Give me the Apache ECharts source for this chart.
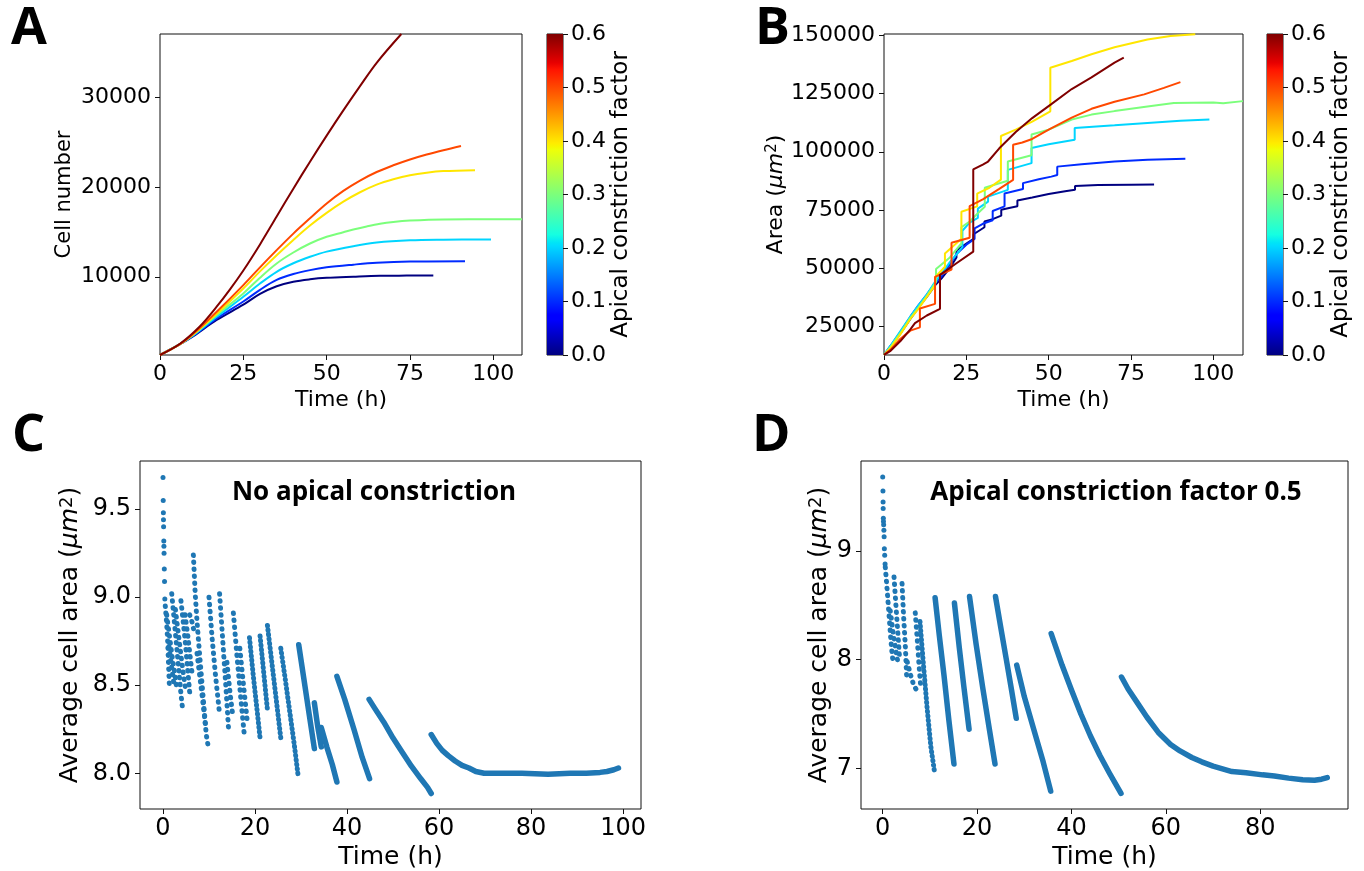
<!DOCTYPE html>
<html><head><meta charset="utf-8">
<script src="https://cdn.jsdelivr.net/npm/echarts@6/dist/echarts.min.js"></script>
<style>html,body{margin:0;padding:0;background:#fff}#c{width:1364px;height:871px}</style>
</head><body><div id="c"></div>
<script>
// ================= DATA =================
const factors = [0.0, 0.1, 0.2, 0.3, 0.4, 0.5, 0.6];
const colorbarTicks = [0, 0.1, 0.2, 0.3, 0.4, 0.5, 0.6];

// Panel A: cell number vs time, one curve per apical constriction factor
const cellNumberAC00 = [[0,1300],[6,2500],[10,3400],[17,5190],[25,6900],[30,8100],[35,8950],[40,9450],[45,9720],[50,9880],[58,10000],[66,10100],[74,10130],[82,10150]];
const cellNumberAC01 = [[0,1300],[6,2500],[10,3450],[17,5375],[25,7250],[30,8550],[35,9650],[40,10300],[45,10740],[50,11050],[58,11350],[65,11560],[75,11700],[91.5,11740]];
const cellNumberAC02 = [[0,1300],[6,2500],[10,3500],[17,5550],[25,7780],[30,9250],[35,10555],[40,11500],[45,12220],[50,12800],[58,13400],[65,13800],[75,14050],[85,14120],[99.3,14150]];
const cellNumberAC03 = [[0,1300],[6,2500],[10,3550],[17,5750],[25,8150],[30,9900],[35,11480],[40,12700],[45,13700],[50,14450],[55,14950],[58,15250],[62,15600],[66,15900],[70,16100],[75,16250],[85,16380],[100,16400],[108.6,16400]];
const cellNumberAC04 = [[0,1300],[6,2500],[10,3600],[17,5900],[25,8700],[30,10600],[35,12400],[40,14100],[45,15700],[50,17100],[55,18350],[60,19400],[65,20250],[70,20850],[75,21300],[80,21580],[85,21750],[94.5,21850]];
const cellNumberAC05 = [[0,1300],[6,2500],[10,3650],[17,6100],[25,9075],[30,11050],[35,12960],[40,14800],[45,16500],[50,18150],[55,19550],[60,20700],[65,21650],[70,22400],[75,23050],[80,23600],[85,24080],[90.3,24550]];
const cellNumberAC06 = [[0,1300],[6,2550],[12,4500],[17,6670],[21,8600],[25,10700],[30,13600],[35,16700],[40,19800],[45,22800],[50,25700],[55,28500],[60,31200],[65,33800],[72.4,37000]];
const cellNumberTimeTicks = [0, 25, 50, 75, 100];
const cellNumberTicks = [10000, 20000, 30000];

// Panel B: area vs time
const areaAC00 = [[0,12600],[2,15800],[5,21800],[8,28000],[10.5,33000],[13,37500],[15.5,42500],[17.5,45500],[20,50000],[22,54500],[22,57500],[25,60500],[27.2,62500],[27.2,64500],[30.5,67500],[30.5,70000],[33,71000],[35.6,72500],[35.6,75000],[38,75800],[40.5,76500],[40.5,79000],[45,80300],[50,81800],[55,83000],[58,83600],[58,85300],[65,85700],[75,85800],[82,85900]];
const areaAC01 = [[0,12600],[2,16500],[5,22500],[8,29000],[10.5,34000],[13,38500],[15.5,43500],[17.5,46500],[20,51500],[22,56000],[25,60000],[27.5,62500],[27.5,67000],[30,69000],[33,70500],[33,74500],[36.6,76500],[36.6,82000],[42.2,84000],[42.2,86500],[47,88200],[50.8,89300],[52.6,90000],[52.6,93600],[60,94600],[70,95800],[80,96600],[91.5,97000]];
const areaAC02 = [[0,12600],[2,16500],[5,22800],[8,29000],[10.5,34000],[13,38500],[15.5,44000],[17.5,47500],[20,52500],[23,57500],[23.8,59000],[23.8,66000],[26,69500],[28.5,71500],[28.5,75500],[31.6,78500],[31.6,80700],[37.6,83600],[37.6,92200],[44.8,95100],[44.8,101600],[50,103200],[57.9,105200],[57.9,110200],[70,111400],[80,112400],[90,113300],[98.8,113900]];
const areaAC03 = [[0,12600],[2,16000],[5,22000],[8,28500],[10.5,33000],[13,38000],[15.8,44000],[15.8,49500],[20,54500],[23.5,60500],[23.5,67500],[26,70000],[28.5,73500],[30.6,76300],[30.6,84500],[34,86000],[37.6,87500],[37.6,95800],[44.8,98500],[44.8,107400],[50,109500],[57,113900],[63,116000],[70,117500],[80,119500],[88,121000],[100,121200],[103,120900],[109,121800]];
const areaAC04 = [[0,12600],[2,15500],[5,21500],[8,28000],[10.5,32500],[13,37500],[15.5,42500],[15.5,46000],[18.5,50500],[18.5,56200],[23.5,62500],[23.5,74200],[28.3,76500],[28.3,82000],[32,84500],[35.5,88000],[35.5,106800],[40,109500],[45,113000],[50.5,117400],[50.5,136200],[57,139100],[63,142000],[70,145000],[80,148300],[87,149800],[94.5,150600]];
const areaAC05 = [[0,12600],[2,14800],[5,19500],[8,23000],[10.9,24400],[10.9,32500],[15.5,34500],[15.5,46100],[20.5,49300],[20.5,60800],[26,63000],[26,76600],[30,79500],[35,84000],[39.2,87900],[39.2,103000],[42,104000],[45,105500],[50,109500],[57,114700],[63,118500],[70,121500],[79,124700],[85,127500],[90,130000]];
const areaAC06 = [[0,12600],[2,14300],[5,18500],[8,23500],[9.4,26200],[13,29500],[17,32400],[17,47000],[22,52000],[27.1,57000],[27.1,92400],[30,94500],[31.6,95800],[35,101500],[40,108500],[45,114500],[50.6,120300],[57,127000],[63,132000],[70,138400],[72.8,140500]];
const areaTimeTicks = [0, 25, 50, 75, 100];
const areaTicks = [25000, 50000, 75000, 100000, 125000, 150000];

// Panel C: average cell area, no apical constriction (segments between jumps)
const noACFirstDots = [[0,9.68],[0.05,9.55],[0.08,9.48],[0.1,9.44],[0.13,9.4],[0.17,9.32],[0.2,9.29],[0.23,9.25],[0.28,9.16],[0.33,9.09],[0.4,8.99]];
const noACSegments = [
  [[0.5,8.95],[0.8,8.85],[1.0,8.76],[1.2,8.62],[1.4,8.49]],
  [[0.8,8.9],[1.4,8.78],[2.0,8.66],[2.6,8.56],[3.0,8.48]],
  [[1.9,9.02],[2.4,8.88],[2.9,8.74],[3.4,8.6],[3.9,8.45],[4.2,8.38]],
  [[1.3,8.72],[1.8,8.62],[2.3,8.52]],
  [[2.7,8.93],[3.3,8.8],[3.9,8.67],[4.5,8.55],[5.0,8.46]],
  [[3.9,8.98],[4.4,8.86],[4.9,8.73],[5.4,8.58],[5.8,8.46]],
  [[4.8,8.9],[5.4,8.78],[6.0,8.64],[6.4,8.55]],
  [[5.8,8.9],[6.3,8.86],[6.8,8.8]],
  [[6.6,9.24],[7.0,9.02],[7.4,8.86],[8.0,8.66],[8.7,8.44],[9.4,8.22],[9.9,8.14]],
  [[7.4,8.68],[8.0,8.55],[8.6,8.42],[9.2,8.28]],
  [[10.0,9.0],[10.7,8.76],[11.4,8.56],[12.2,8.36]],
  [[12.3,9.02],[13.0,8.75],[13.7,8.48],[14.3,8.23]],
  [[13.9,8.63],[14.6,8.45],[15.2,8.32]],
  [[15.3,8.91],[16.1,8.66],[16.9,8.43],[17.7,8.21]],
  [[16.7,8.71],[17.5,8.5],[18.3,8.3]],
  [[18.8,8.77],[19.6,8.56],[20.4,8.37],[21.1,8.2]],
  [[21.1,8.78],[21.9,8.57],[22.7,8.36]],
  [[22.7,8.84],[23.7,8.62],[24.7,8.4],[25.6,8.2]],
  [[25.6,8.71],[26.6,8.53],[27.6,8.34],[28.6,8.15],[29.4,7.98]],
  [[29.5,8.73],[30.6,8.54],[31.8,8.33],[32.9,8.14]],
  [[32.9,8.4],[33.6,8.27],[34.4,8.15]],
  [[34.4,8.26],[35.6,8.15],[36.8,8.05],[37.8,7.95]],
  [[37.8,8.55],[39.5,8.42],[41.5,8.25],[43.3,8.09],[44.9,7.97]],
  [[44.8,8.42],[46,8.37],[48,8.29],[50,8.2],[52,8.12],[54,8.04],[56,7.97],[57.5,7.92],[58.3,7.885]],
  [[58.3,8.22],[59.5,8.17],[60.7,8.13],[62,8.1],[63.5,8.07],[65,8.045],[66.5,8.03],[68,8.01],[69.8,8.0],[74,8.0],[78,8.0],[83.7,7.995],[88.5,8.0],[92,8.0],[95,8.005],[96.5,8.01],[98,8.02],[99,8.03]]
];
const noACTimeTicks = [0, 20, 40, 60, 80, 100];
const noACTicks = [8.0, 8.5, 9.0, 9.5];

// Panel D: average cell area, apical constriction factor 0.5
const ac05FirstDots = [[0,9.68],[0.05,9.55],[0.08,9.45],[0.1,9.39],[0.13,9.3],[0.16,9.27],[0.2,9.24],[0.25,9.19],[0.3,9.13],[0.35,9.02],[0.42,8.96],[0.5,8.88]];
const ac05Segments = [
  [[0.55,8.85],[0.8,8.72],[1.1,8.55],[1.4,8.38],[1.7,8.2],[2.0,8.05],[2.2,7.98]],
  [[2.4,8.76],[2.8,8.5],[3.2,8.25],[3.6,8.0]],
  [[1.6,8.45],[2.2,8.25],[2.8,8.08],[3.2,7.98]],
  [[4.1,8.7],[4.4,8.42],[4.8,8.12],[5.1,7.82]],
  [[5.2,7.98],[5.9,7.86],[6.6,7.76],[7.2,7.72]],
  [[6.9,8.43],[7.3,8.2],[7.7,7.95],[8.1,7.73]],
  [[7.9,8.35],[8.6,7.97],[9.4,7.56],[10.2,7.2],[11.0,6.96]],
  [[11.1,8.57],[12,8.22],[13,7.85],[14,7.45],[15.1,7.04]],
  [[15.2,8.52],[16.2,8.12],[17.2,7.75],[18.3,7.36]],
  [[18.4,8.58],[19.8,8.14],[21.2,7.74],[22.6,7.36],[23.8,7.04]],
  [[23.9,8.58],[25,8.3],[26.2,8.0],[27.3,7.72],[28.3,7.46]],
  [[28.4,7.95],[30,7.66],[32,7.36],[34,7.06],[35.6,6.79]],
  [[35.7,8.24],[38,7.95],[40,7.72],[42,7.5],[44,7.3],[46,7.12],[48,6.96],[50.5,6.77]],
  [[50.6,7.84],[52,7.73],[54,7.6],[56,7.47],[58.4,7.33],[61,7.22],[63,7.16],[65.5,7.1],[67.6,7.06],[70,7.02],[74,6.97],[77,6.96],[80.5,6.94],[83,6.93],[86,6.91],[89,6.895],[91.5,6.89],[93,6.9],[94.2,6.915]]
];
const ac05TimeTicks = [0, 20, 40, 60, 80];
const ac05Ticks = [7, 8, 9];

// ================= STYLE / BUILD =================
const FONT = 'DejaVu Sans';
const BLUE = '#1f77b4';

function chan(pts, x) {
  for (let i = 1; i < pts.length; i++) {
    if (x <= pts[i][0]) {
      const [x0, y0] = pts[i - 1], [x1, y1] = pts[i];
      return y0 + (y1 - y0) * (x - x0) / (x1 - x0);
    }
  }
  return pts[pts.length - 1][1];
}
const JR = [[0,0],[0.35,0],[0.66,1],[0.89,1],[1,0.5]];
const JG = [[0,0],[0.125,0],[0.375,1],[0.64,1],[0.91,0],[1,0]];
const JB = [[0,0.5],[0.11,1],[0.34,1],[0.65,0],[1,0]];
function jet(x) {
  return 'rgb(' + Math.round(255 * chan(JR, x)) + ',' + Math.round(255 * chan(JG, x)) + ',' + Math.round(255 * chan(JB, x)) + ')';
}
const stopPos = [0,0.11,0.125,0.34,0.35,0.375,0.64,0.65,0.66,0.89,0.91,1];
const jetGradient = {type: 'linear', x: 0, y: 1, x2: 0, y2: 0, colorStops: stopPos.map(p => ({offset: p, color: jet(p)}))};

function grid(l, t, w, h) {
  return {left: l, top: t, width: w, height: h, show: true, borderColor: '#111', borderWidth: 1,
    backgroundColor: 'transparent', containLabel: false, outerBoundsMode: 'none'};
}
function vAxis(o) {
  return {
    type: 'value', gridIndex: o.g, min: o.min, max: o.max, position: o.pos,
    axisLine: {show: false, onZero: false}, splitLine: {show: false},
    axisTick: {show: true, inside: false, length: 5, lineStyle: {color: '#111', width: 1}, customValues: o.ticks},
    axisLabel: {show: true, customValues: o.ticks, fontFamily: FONT, fontSize: o.fs, color: '#000', margin: o.margin,
      formatter: o.fmt || (v => String(v))},
    name: o.name, nameLocation: 'middle', nameGap: o.gap,
    nameTextStyle: {fontFamily: FONT, fontSize: o.nfs, color: '#000', rich: o.rich}
  };
}
function muRich(fs) {
  return {
    i: {fontFamily: FONT, fontSize: fs, fontStyle: 'italic', color: '#000'},
    s: {fontFamily: FONT, fontSize: Math.round(fs * 0.7), color: '#000', verticalAlign: 'top'}
  };
}

const grids = [
  grid(160, 34, 362, 321),    // A
  grid(547, 34, 16, 321),     // colorbar A
  grid(884, 34, 359, 321),    // B
  grid(1267, 34, 16, 321),    // colorbar B
  grid(140, 461, 501, 348),   // C
  grid(861, 461, 487, 348)    // D
];

const cbX = g => ({type: 'category', gridIndex: g, data: ['cb'], show: false, boundaryGap: true});
const cbY = (g, gap) => vAxis({g, min: 0, max: 0.6, ticks: colorbarTicks, fs: 22, margin: 8, pos: 'right',
  fmt: v => v.toFixed(1), name: 'Apical constriction factor', gap, nfs: 23});

const xAxes = [
  vAxis({g: 0, min: 0, max: 108.6, ticks: cellNumberTimeTicks, fs: 22, margin: 8, name: 'Time (h)', gap: 34, nfs: 22}),
  cbX(1),
  vAxis({g: 2, min: 0, max: 109, ticks: areaTimeTicks, fs: 22, margin: 8, name: 'Time (h)', gap: 34, nfs: 22}),
  cbX(3),
  vAxis({g: 4, min: -5, max: 103.9, ticks: noACTimeTicks, fs: 24, margin: 8, name: 'Time (h)', gap: 36, nfs: 25}),
  vAxis({g: 5, min: -4.6, max: 98.6, ticks: ac05TimeTicks, fs: 24, margin: 8, name: 'Time (h)', gap: 36, nfs: 25})
];
const yAxes = [
  vAxis({g: 0, min: 1300, max: 37000, ticks: cellNumberTicks, fs: 22, margin: 9, name: 'Cell number', gap: 85, nfs: 21}),
  cbY(1, 42),
  vAxis({g: 2, min: 12500, max: 150700, ticks: areaTicks, fs: 22, margin: 9, name: 'Area ({i|μm}{s|2})', gap: 97, nfs: 22, rich: muRich(22)}),
  cbY(3, 46),
  vAxis({g: 4, min: 7.797, max: 9.774, ticks: noACTicks, fs: 24, margin: 9, fmt: v => v.toFixed(1),
    name: 'Average cell area ({i|μm}{s|2})', gap: 57, nfs: 25, rich: muRich(25)}),
  vAxis({g: 5, min: 6.626, max: 9.827, ticks: ac05Ticks, fs: 24, margin: 9, fmt: v => String(v),
    name: 'Average cell area ({i|μm}{s|2})', gap: 29, nfs: 25, rich: muRich(25)})
];

const series = [];
const cellSets = [cellNumberAC00, cellNumberAC01, cellNumberAC02, cellNumberAC03, cellNumberAC04, cellNumberAC05, cellNumberAC06];
const areaSets = [areaAC00, areaAC01, areaAC02, areaAC03, areaAC04, areaAC05, areaAC06];
factors.forEach((f, i) => {
  const col = jet(f / 0.6);
  series.push({type: 'line', xAxisIndex: 0, yAxisIndex: 0, data: cellSets[i], showSymbol: false, smooth: 0.35,
    silent: true, z: 2 + i, lineStyle: {width: 2, color: col}});
  series.push({type: 'line', xAxisIndex: 2, yAxisIndex: 2, data: areaSets[i], showSymbol: false, smooth: false,
    silent: true, z: 2 + i, lineStyle: {width: 2, color: col}});
});
[1, 3].forEach(ax => series.push({type: 'bar', xAxisIndex: ax, yAxisIndex: ax, data: [0.6], barWidth: '100%',
  silent: true, itemStyle: {color: jetGradient}}));

function segSeries(segs, ax, sparseEnd, solidStart) {
  segs.forEach(seg => {
    const t0 = seg[0][0];
    let type = 'solid';
    if (t0 < sparseEnd) type = [0.5, 6.5];
    else if (t0 < solidStart) type = [0.5, 4];
    series.push({type: 'line', xAxisIndex: ax, yAxisIndex: ax, data: seg, showSymbol: false, silent: true, z: 3,
      lineStyle: {color: BLUE, width: type === 'solid' ? 5.5 : 5, type, cap: 'round', join: 'round'}});
  });
}
segSeries(noACSegments, 4, 18.5, 29.4);
segSeries(ac05Segments, 5, 7.5, 11);
series.push({type: 'scatter', xAxisIndex: 4, yAxisIndex: 4, data: noACFirstDots, symbolSize: 5, silent: true, itemStyle: {color: BLUE, opacity: 1}});
series.push({type: 'scatter', xAxisIndex: 5, yAxisIndex: 5, data: ac05FirstDots, symbolSize: 5, silent: true, itemStyle: {color: BLUE, opacity: 1}});

function label(text, x, y, size, align) {
  return {type: 'text', x, y, silent: true, z: 10,
    style: {text, font: 'bold ' + size + "px 'Open Sans'", fill: '#000', align: align || 'left', verticalAlign: 'middle'}};
}

const chart = echarts.init(document.getElementById('c'), null, {renderer: 'canvas'});
chart.setOption({
  animation: false,
  backgroundColor: '#fff',
  grid: grids,
  xAxis: xAxes,
  yAxis: yAxes,
  series,
  graphic: [
    label('A', 11, 29, 52),
    label('B', 755, 29, 52),
    label('C', 12, 436, 52),
    label('D', 752, 436, 52),
    label('No apical constriction', 374, 493, 26, 'center'),
    label('Apical constriction factor 0.5', 1116, 493, 26, 'center')
  ]
});
</script>
</body></html>
